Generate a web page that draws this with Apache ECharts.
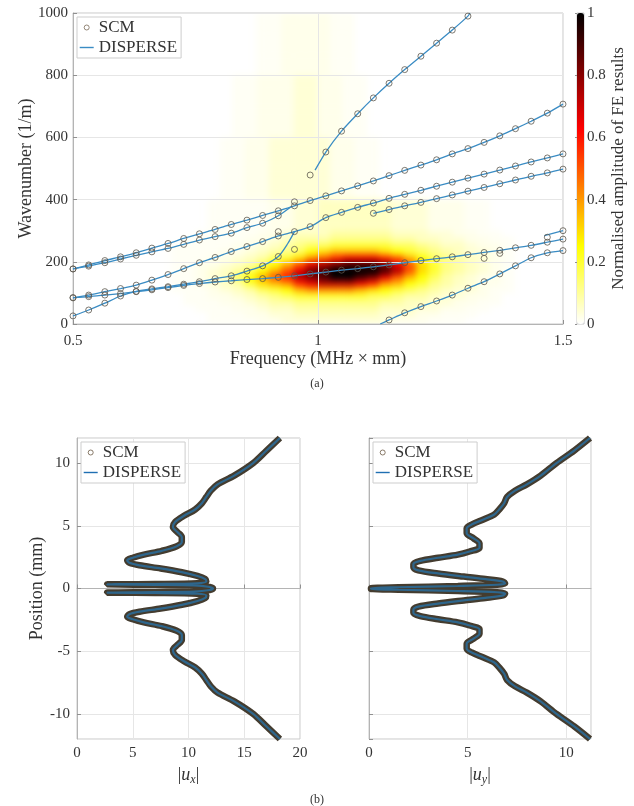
<!DOCTYPE html>
<html lang="en">
<head>
<meta charset="UTF-8">
<title>dispersion</title>
<style>
    *{padding:0;margin:0;}
    body{background:#fff;}
    #wrap{position:relative;width:634px;height:806px;}
    #field{position:absolute;left:0;top:0;width:634px;height:806px;filter:blur(3px);clip-path:inset(13px 71px 482px 73px);}
    #main{position:absolute;left:0;top:0;width:634px;height:806px;}
</style>
<script src="https://cdn.jsdelivr.net/npm/echarts/dist/echarts.min.js"></script>
</head>
<body>
<div id="wrap">
    <div id="field"></div>
    <div id="main"></div>
</div>
<script>
var FONT = '"Liberation Serif", "DejaVu Serif", serif';
var TXT = '#333';
var _ = null;

// ---- (a) dispersion curves, SCM sampled every 1/31 MHz*mm
var scmFreq = [0.500,0.532,0.565,0.597,0.629,0.661,0.694,0.726,0.758,0.790,0.823,0.855,0.887,0.919,0.952,0.984,
               1.016,1.048,1.081,1.113,1.145,1.177,1.210,1.242,1.274,1.306,1.339,1.371,1.403,1.435,1.468,1.500];
var kA = [_,_,_,_,_,_,_,_,_,_,_,_,_,_,_,_,553,620,676,727,774,818,861,903,945,990,_,_,_,_,_,_];
var kB = [177,190,204,216,229,244,259,275,290,304,320,334,349,364,380,397,412,428,444,460,477,494,511,528,547,564,584,605,628,652,678,707];
var kC = [177,186,197,209,221,232,243,256,270,281,292,310,324,348,_,_,_,_,_,_,_,_,_,_,_,_,_,_,_,_,_,_];
var kD = [84,93,104,114,125,141,159,178,197,214,233,249,265,283,297,313,342,359,375,389,404,417,430,443,456,469,482,495,508,521,534,547];
var kE = [85,88,93,98,104,110,117,124,130,135,139,143,146,150,155,161,167,173,178,184,190,197,204,210,216,223,230,237,245,253,263,273];
var kF = [_,_,_,_,_,_,_,_,_,_,_,_,_,_,_,_,_,_,_,356,368,380,391,403,415,427,439,451,463,475,486,498];
var kG = [26,45,67,90,105,113,120,128,136,146,155,170,187,217,_,_,_,_,_,_,_,_,_,_,_,_,_,_,_,_,_,_];
var kI = [_,_,_,_,_,_,_,_,_,_,_,_,_,_,_,_,_,_,_,_,13,36,56,74,93,115,136,161,187,213,229,236];
var kJ = [_,_,_,_,_,_,_,_,_,_,_,_,_,_,_,_,_,_,_,_,_,_,_,_,_,_,_,_,_,_,_,300];
// DISPERSE branch ends that fall between SCM samples
var leadA = [[0.994,495]], tailA = [[1.31,1000]];
var tailC = [[0.945,377]];
var tailG = [[0.938,258],[0.952,297]];
var leadI = [[1.127,0]];
var leadJ = [[1.462,284]];
// SCM roots off the DISPERSE branches
var scmExtra = [[0.984,479],[0.919,297],[0.952,240],[0.952,393],[1.339,211],[1.371,227],[1.468,279]];

// FE amplitude field: bins of 0.025 MHz*mm (from 0.700) x 20 1/m, top row = 980-1000
var fieldCodes = '0123456789abcdefghij';
var fieldLevels = [0,0.01,0.02,0.04,0.06,0.09,0.12,0.16,0.2,0.25,0.3,0.36,0.42,0.5,0.58,0.66,0.74,0.82,0.9,1.0];
var fieldColStart = 8;
var fieldRows = [
    '0000000112222110000000000000','0000000112222110000000000000','0000000112222110000000000000',
    '0000000112222110000000000000','0000000112222110000000000000','0000000112222110000000000000',
    '0000000112222110000000000000','0000000112222110000000000000','0000000112222110000000000000',
    '0000000112222110000000000000',
    '0000011222332211000000000000','0000011222332211000000000000','0000011222332211000000000000',
    '0000011222332211000000000000','0000011222332211000000000000','0000011222332211000000000000',
    '0000011222332211000000000000','0000011222332211000000000000','0000011222332211000000000000',
    '0000011222332211000000000000',
    '0000112233333221100000000000','0000112233333221100000000000','0000112233333221100000000000',
    '0000112233333221100000000000','0000112233333221100000000000','0000112233333221100000000000',
    '0000112233333221100000000000','0000112233333221100000000000','0000112233333221100000000000',
    '0000112233333221100000000000',
    '0001111122334444443332221100','0001111122334444443332221100','0001111122334444443332221100',
    '0001111122334444443332221100','0001111122334444443332221100',
    '0011111223444555554443322110',
    '0111112234555666665544332211',
    '1111122345677888887765443221',
    '111122345679abbbba9876543321',
    '1112234578acdefffedb97654321',
    '112234579bdfghiiihfda8654321',
    '11234579bdfhijjjjigda8654321',
    '1123479bdeghijjihfdb97543221',
    '1123458abcefgggfecb986543221',
    '1112345789bccccba98765433211',
    '0112234567888888776554332210',
    '0111223455666666655443322110',
    '0011122344555555544433221100',
    '0001112233444444433322111000',
    '0001111223333333332221110000'
];
var hotColors = ['#ffffff', '#ffff80', '#ffff00', '#ffaa00', '#ff5500', '#ff0000', '#aa0000', '#550000', '#000000'];

// ---- (b) mode shapes: position (mm) and amplitude
var posX = [12,11,10,9,8.3,7.8,7.3,6.8,6.3,5.8,5.3,4.9,4.5,4.1,3.7,3.35,3.0,2.7,2.45,2.25,2.05,1.85,1.6,1.3,1.0,0.75,0.55,0.42,0.36,0.33,0.29,0.25,0.12,0,
    -0.12,-0.25,-0.29,-0.33,-0.36,-0.42,-0.55,-0.75,-1.0,-1.3,-1.6,-1.85,-2.05,-2.25,-2.45,-2.7,-3.0,-3.35,-3.7,-4.1,-4.5,-4.9,-5.3,-5.8,-6.3,-6.8,-7.3,-7.8,-8.3,-9,-10,-11,-12];
var ampX = [18.2,17.0,15.8,14.1,12.6,12.0,11.6,11.2,10.6,9.6,8.8,8.6,9.0,9.4,9.4,8.9,7.6,6.0,5.0,4.5,4.7,5.6,7.5,9.4,10.8,11.5,11.6,10.8,7.0,2.7,7.0,10.5,11.9,12.2,
    11.9,10.5,7.0,2.7,7.0,10.8,11.6,11.5,10.8,9.4,7.5,5.6,4.7,4.5,5.0,6.0,7.6,8.9,9.4,9.4,9.0,8.6,8.8,9.6,10.6,11.2,11.6,12.0,12.6,14.1,15.8,17.0,18.2];
var posY = [12,11,10,9,8.3,7.8,7.3,6.8,6.3,5.9,5.5,5.1,4.8,4.4,4.0,3.6,3.25,2.95,2.7,2.45,2.2,1.95,1.7,1.45,1.2,0.95,0.75,0.55,0.4,0.3,0.2,0.1,0.03,
    -0.03,-0.1,-0.2,-0.3,-0.4,-0.55,-0.75,-0.95,-1.2,-1.45,-1.7,-1.95,-2.2,-2.45,-2.7,-2.95,-3.25,-3.6,-4.0,-4.4,-4.8,-5.1,-5.5,-5.9,-6.3,-6.8,-7.3,-7.8,-8.3,-9,-10,-11,-12];
var ampY = [11.2,10.4,9.5,8.7,8.0,7.4,7.0,6.85,6.6,6.35,5.8,5.2,4.95,4.95,5.3,5.6,5.6,5.1,4.5,3.5,2.6,2.25,2.25,2.5,3.5,4.8,5.9,6.8,6.9,6.5,4.5,1.5,0.1,
    0.1,1.5,4.5,6.5,6.9,6.8,5.9,4.8,3.5,2.5,2.25,2.25,2.6,3.5,4.5,5.1,5.6,5.6,5.3,4.95,4.95,5.2,5.8,6.35,6.6,6.85,7.0,7.4,8.0,8.7,9.5,10.4,11.2];

function pairs(k) {
    var res = [];
    for (var i = 0; i < scmFreq.length; i++) {
        if (k[i] !== null) res.push([scmFreq[i], k[i]]);
    }
    return res;
}
function zip(a, b) {
    return a.map(function (v, i) { return [v, b[i]]; });
}

// ---------- FE field (own layer, softened like the interpolated image)
var heatData = [];
fieldRows.forEach(function (row, r) {
    for (var c = 0; c < row.length; c++) {
        var v = fieldLevels[fieldCodes.indexOf(row[c])];
        if (v > 0) heatData.push([c + fieldColStart, fieldRows.length - 1 - r, v]);
    }
});
var heatX = [], heatY = [];
for (var i = 0; i < 40; i++) heatX.push(i);
for (var j = 0; j < fieldRows.length; j++) heatY.push(j);

var fieldChart = echarts.init(document.getElementById('field'));
fieldChart.setOption({
    animation: false,
    grid: {left: 73, top: 13, width: 490, height: 311},
    xAxis: {type: 'category', data: heatX, show: false},
    yAxis: {type: 'category', data: heatY, show: false},
    visualMap: {show: false, min: 0, max: 1, inRange: {color: hotColors}},
    series: [{type: 'heatmap', data: heatData, emphasis: {disabled: true}, progressive: 0}]
});

// ---------- curves, axes, colorbar
var branches = [
    leadA.concat(pairs(kA), tailA),
    pairs(kB),
    pairs(kC).concat(tailC),
    pairs(kD),
    pairs(kE),
    pairs(kF),
    pairs(kG).concat(tailG),
    leadI.concat(pairs(kI)),
    leadJ.concat(pairs(kJ))
];
var scmAll = [];
[kA, kB, kC, kD, kE, kF, kG, kI, kJ].forEach(function (k) { scmAll = scmAll.concat(pairs(k)); });
scmAll = scmAll.concat(scmExtra);

var lineBlue = '#3a8cc4';
var axisLine = {lineStyle: {color: '#b4b4b4'}};
var axisTick = {inside: true, length: 4, lineStyle: {color: '#909090'}};
var splitLine = {show: true, lineStyle: {color: '#e6e6e6'}};
var label = {color: TXT, fontFamily: FONT, fontSize: 15};
var nameStyle = {color: TXT, fontFamily: FONT, fontSize: 18};
var legendBase = {
    orient: 'vertical', itemWidth: 14, itemHeight: 5, itemGap: 3,
    padding: [2, 4, 2, 2], borderColor: '#cdcdcd', borderWidth: 1, backgroundColor: '#fff',
    textStyle: {color: TXT, fontFamily: FONT, fontSize: 17}
};
function legendAt(left, top, scmColor, dispColor) {
    return Object.assign({}, legendBase, {
        left: left, top: top,
        data: [
            {name: 'SCM', icon: 'circle', itemStyle: {color: 'rgba(0,0,0,0)', borderColor: scmColor, borderWidth: 1}},
            {name: 'DISPERSE', itemStyle: {color: 'rgba(0,0,0,0)', borderColor: 'rgba(0,0,0,0)'},
             lineStyle: {color: dispColor, width: 1.4}}
        ]
    });
}
function subName(sub) {
    return {
        name: '|{i|u}{s|' + sub + '}|', nameLocation: 'middle', nameGap: 26,
        nameTextStyle: Object.assign({rich: {
            i: {fontFamily: FONT, fontSize: 18, fontStyle: 'italic', color: TXT},
            s: {fontFamily: FONT, fontSize: 12, fontStyle: 'italic', color: TXT, padding: [9, 0, 0, 0]}
        }}, nameStyle)
    };
}

var series = [{
    // carries the colorbar only; the field itself is drawn on the layer below
    type: 'scatter', xAxisIndex: 0, yAxisIndex: 0, data: []
}];
branches.forEach(function (b) {
    series.push({
        name: 'DISPERSE', type: 'line', xAxisIndex: 0, yAxisIndex: 0, data: b,
        symbol: 'none', smooth: 0.25, lineStyle: {color: lineBlue, width: 1.3}, z: 5
    });
});
series.push({
    name: 'SCM', type: 'scatter', xAxisIndex: 0, yAxisIndex: 0, data: scmAll,
    symbol: 'circle', symbolSize: 6,
    itemStyle: {color: 'rgba(0,0,0,0)', borderColor: '#5c574d', borderWidth: 1}, z: 6
});
[[zip(ampX, posX), 2], [zip(ampY, posY), 3]].forEach(function (p) {
    series.push({
        name: 'SCM', type: 'line', xAxisIndex: p[1], yAxisIndex: p[1], data: p[0],
        symbol: 'none', smooth: 0.3, lineStyle: {color: '#443c2f', width: 6.5}, z: 5
    });
    series.push({
        name: 'DISPERSE', type: 'line', xAxisIndex: p[1], yAxisIndex: p[1], data: p[0],
        symbol: 'none', smooth: 0.3, lineStyle: {color: '#2e668c', width: 2.2}, z: 6
    });
});

var option = {
    animation: false,
    backgroundColor: 'transparent',
    title: [
        {text: '(a)', left: 'center', top: 373, textStyle: {fontFamily: FONT, fontSize: 12, fontWeight: 'normal', color: TXT}},
        {text: '(b)', left: 'center', top: 789, textStyle: {fontFamily: FONT, fontSize: 12, fontWeight: 'normal', color: TXT}}
    ],
    legend: [
        legendAt(77, 17, '#7a6a58', lineBlue),
        legendAt(81, 442, '#6b5a45', '#1f6fb2'),
        legendAt(373, 442, '#6b5a45', '#1f6fb2')
    ],
    grid: [
        {left: 73, top: 13, width: 490, height: 311, show: true, borderColor: '#c8c8c8', z: 3},
        {left: 577, top: 13, width: 7, height: 311, show: true, borderColor: '#c8c8c8', z: 3},
        {left: 77, top: 438, width: 223, height: 301, show: true, borderColor: '#c8c8c8'},
        {left: 369, top: 438, width: 222, height: 301, show: true, borderColor: '#c8c8c8'}
    ],
    visualMap: {
        type: 'continuous', seriesIndex: 0, min: 0, max: 1, calculable: false,
        left: 577, top: 13, itemWidth: 7, itemHeight: 311, padding: 0,
        inRange: {color: hotColors}
    },
    xAxis: [
        {gridIndex: 0, type: 'value', min: 0.5, max: 1.5, interval: 0.5, z: 4,
         name: 'Frequency (MHz \u00d7 mm)', nameLocation: 'middle', nameGap: 22, nameTextStyle: nameStyle,
         axisLine: axisLine, axisTick: axisTick, axisLabel: Object.assign({margin: 10}, label), splitLine: splitLine},
        {gridIndex: 1, type: 'value', show: false},
        Object.assign({gridIndex: 2, type: 'value', min: 0, max: 20, interval: 5,
         axisLine: axisLine, axisTick: axisTick, axisLabel: Object.assign({margin: 7}, label), splitLine: splitLine}, subName('x')),
        Object.assign({gridIndex: 3, type: 'value', min: 0, max: 11.25, interval: 5,
         axisLine: axisLine, axisTick: axisTick, axisLabel: Object.assign({margin: 7, showMaxLabel: false}, label), splitLine: splitLine}, subName('y'))
    ],
    yAxis: [
        {gridIndex: 0, type: 'value', min: 0, max: 1000, interval: 200, z: 4,
         name: 'Wavenumber (1/m)', nameLocation: 'middle', nameGap: 38, nameMoveOverlap: false, nameTextStyle: nameStyle,
         axisLine: axisLine, axisTick: axisTick,
         axisLabel: Object.assign({margin: 5, formatter: function (v) { return String(v); }}, label), splitLine: splitLine},
        {gridIndex: 1, type: 'value', min: 0, max: 1, interval: 0.2, position: 'right', z: 4,
         name: 'Normalised amplitude of FE results', nameLocation: 'middle', nameGap: 25, nameRotate: 90,
         nameTextStyle: Object.assign({}, nameStyle, {fontSize: 17}),
         axisLine: {show: false}, axisTick: {inside: true, length: 2, lineStyle: {color: '#909090'}},
         axisLabel: Object.assign({margin: 3}, label), splitLine: {show: false}},
        {gridIndex: 2, type: 'value', min: -12, max: 12,
         name: 'Position (mm)', nameLocation: 'middle', nameGap: 30, nameTextStyle: nameStyle,
         axisLine: axisLine, axisTick: axisTick,
         axisLabel: Object.assign({margin: 7, showMinLabel: false, showMaxLabel: false}, label), splitLine: splitLine},
        {gridIndex: 3, type: 'value', min: -12, max: 12,
         axisLine: axisLine, axisTick: axisTick, axisLabel: {show: false}, splitLine: splitLine}
    ],
    series: series
};

var myChart = echarts.init(document.getElementById('main'));
myChart.setOption(option);
</script>
</body>
</html>
